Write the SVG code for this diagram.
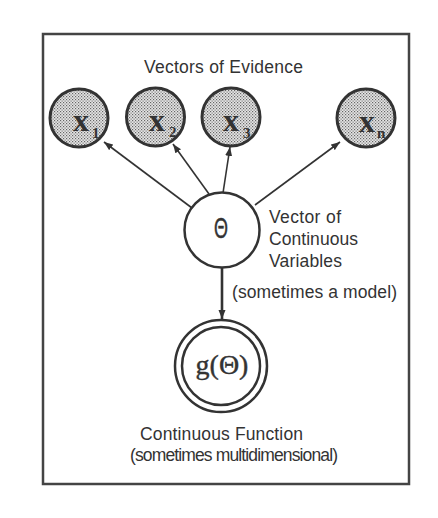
<svg xmlns="http://www.w3.org/2000/svg" width="438" height="518" viewBox="0 0 438 518">
<style>
.lbl{font-family:"Liberation Sans",Arial,sans-serif;font-size:17.5px;fill:#333}
.ev{fill:url(#stip);stroke:#333;stroke-width:3}
.xv{font-family:"Liberation Serif","Times New Roman",serif;font-weight:bold;font-size:32px;fill:#333}
.sub{font-family:"Liberation Serif","Times New Roman",serif;font-weight:bold;font-size:15px;fill:#333}
.edge{stroke:#333;stroke-width:1.6;fill:none}
</style>
<defs>
<pattern id="stip" patternUnits="userSpaceOnUse" width="3" height="3">
<rect width="3" height="3" fill="#e6e6e6"/>
<rect x="0" y="0" width="1.2" height="1.2" fill="#666"/>
<rect x="1.5" y="1.5" width="1.2" height="1.2" fill="#777"/>
</pattern>
<marker id="ah" markerUnits="userSpaceOnUse" markerWidth="10" markerHeight="8" refX="9" refY="4" orient="auto">
<path d="M0,0.5 L9,4 L0,7.5 z" fill="#333"/>
</marker>
</defs>
<rect width="438" height="518" fill="#ffffff"/>
<rect x="43" y="34" width="366" height="450" fill="#ffffff" stroke="#444" stroke-width="2.5"/>
<text class="lbl" x="144" y="73" textLength="159">Vectors of Evidence</text>
<g id="connectors">
<line class="edge" x1="192" y1="208" x2="104" y2="142" marker-end="url(#ah)"/>
<line class="edge" x1="209" y1="194" x2="173" y2="144" marker-end="url(#ah)"/>
<line class="edge" x1="223" y1="193" x2="230" y2="147" marker-end="url(#ah)"/>
<line class="edge" x1="255" y1="205" x2="340" y2="142" marker-end="url(#ah)"/>
<line x1="222" y1="268" x2="222" y2="319" stroke="#333" stroke-width="2.6" marker-end="url(#ah)"/>
</g>
<g id="x1">
<circle class="ev" cx="79" cy="118" r="29"/>
<text class="xv" x="73" y="131">x</text><text class="sub" x="92" y="138">1</text>
</g>
<g id="x2">
<circle class="ev" cx="155.5" cy="117" r="29"/>
<text class="xv" x="149" y="131">x</text><text class="sub" x="169" y="137">2</text>
</g>
<g id="x3">
<circle class="ev" cx="231" cy="117" r="29"/>
<text class="xv" x="223" y="131">x</text><text class="sub" x="243" y="138">3</text>
</g>
<g id="xn">
<circle class="ev" cx="366" cy="118" r="29"/>
<text class="xv" x="359" y="132">x</text><text class="sub" x="377" y="138">n</text>
</g>
<g id="theta">
<circle cx="222" cy="230" r="37.5" fill="#fff" stroke="#333" stroke-width="2.5"/>
<text transform="translate(221,238) scale(0.62,1)" text-anchor="middle" font-family="'Liberation Sans',Arial,sans-serif" font-size="29" fill="#333" stroke="#333" stroke-width="0.5">Θ</text>
<text class="lbl" x="269" y="223" textLength="72">Vector of</text>
<text class="lbl" x="269" y="245" textLength="89">Continuous</text>
<text class="lbl" x="269" y="267" textLength="73">Variables</text>
<text class="lbl" x="232" y="298" textLength="165">(sometimes a model)</text>
</g>
<g id="g">
<circle cx="221" cy="366" r="46" fill="#fff" stroke="#333" stroke-width="2.5"/>
<circle cx="221" cy="366" r="39" fill="none" stroke="#333" stroke-width="2.5"/>
<text x="222" y="374" text-anchor="middle" font-family="'Liberation Serif','Times New Roman',serif" font-size="28" fill="#333" stroke="#333" stroke-width="0.4">g(Θ)</text>
<text class="lbl" x="140" y="440" textLength="163">Continuous Function</text>
<text class="lbl" x="130" y="461" textLength="208">(sometimes multidimensional)</text>
</g>
</svg>
